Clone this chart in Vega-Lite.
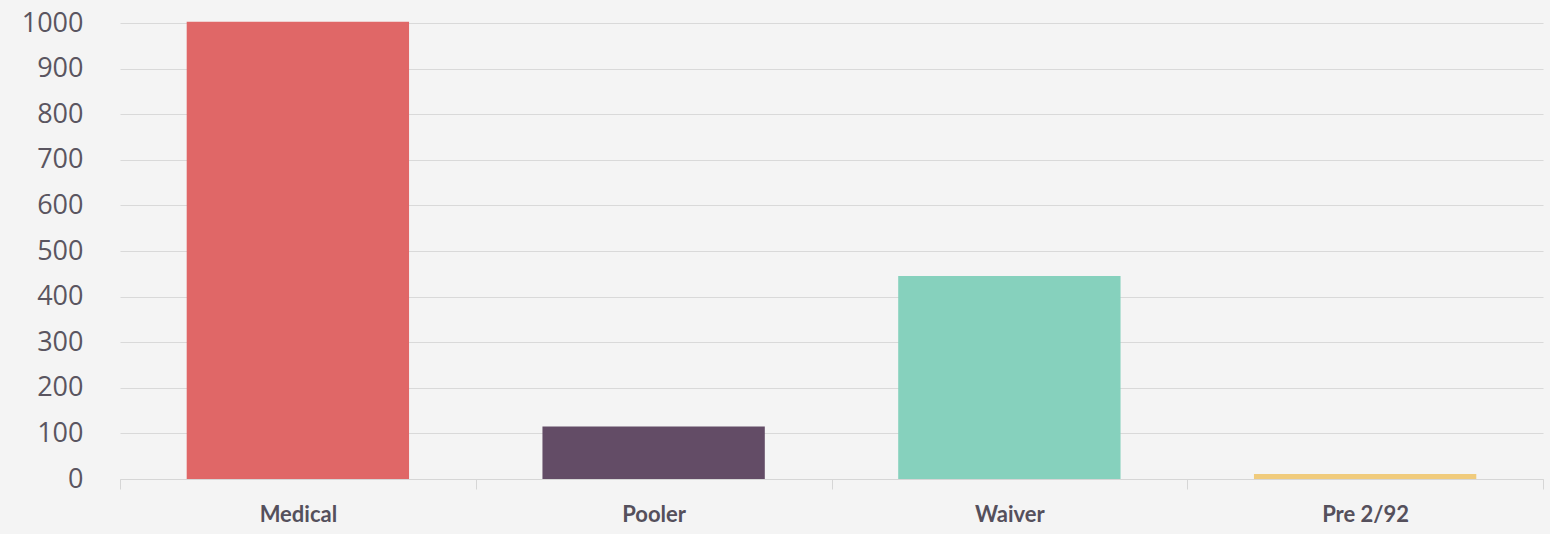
{
  "$schema": "https://vega.github.io/schema/vega-lite/v6.json",
  "autosize": "none",
  "width": 1423,
  "height": 456,
  "padding": {"left": 120, "top": 23, "right": 7, "bottom": 55},
  "background": "#f4f4f4",
  "config": {"view": {"stroke": null}},
  "data": {
    "values": [
      {"category": "Medical", "value": 1003},
      {"category": "Pooler", "value": 115},
      {"category": "Waiver", "value": 445},
      {"category": "Pre 2/92", "value": 11}
    ]
  },
  "mark": {"type": "bar", "width": {"band": 0.625}},
  "encoding": {
    "x": {
      "field": "category",
      "type": "nominal",
      "sort": null,
      "title": null,
      "scale": {"paddingInner": 0, "paddingOuter": 0},
      "axis": {
        "labelAngle": 0,
        "labelFont": "Lato",
        "labelFontWeight": "bold",
        "labelFontSize": 22,
        "labelColor": "#55505c",
        "labelPadding": 15,
        "domainColor": "#d6d6d6",
        "tickColor": "#d6d6d6",
        "tickSize": 10,
        "tickBand": "extent",
        "grid": false
      }
    },
    "y": {
      "field": "value",
      "type": "quantitative",
      "title": null,
      "scale": {"domain": [0, 1000], "nice": false, "clamp": false},
      "axis": {
        "values": [0, 100, 200, 300, 400, 500, 600, 700, 800, 900, 1000],
        "format": "d",
        "domain": false,
        "ticks": false,
        "labelPadding": 37,
        "labelFont": "Open Sans",
        "labelFontSize": 27,
        "labelColor": "#5a5560",
        "gridColor": "#d9d9d9",
        "gridWidth": 1
      }
    },
    "color": {
      "field": "category",
      "type": "nominal",
      "sort": null,
      "legend": null,
      "scale": {
        "domain": ["Medical", "Pooler", "Waiver", "Pre 2/92"],
        "range": ["#e06767", "#634c66", "#86d1bd", "#f0cb7c"]
      }
    }
  }
}
